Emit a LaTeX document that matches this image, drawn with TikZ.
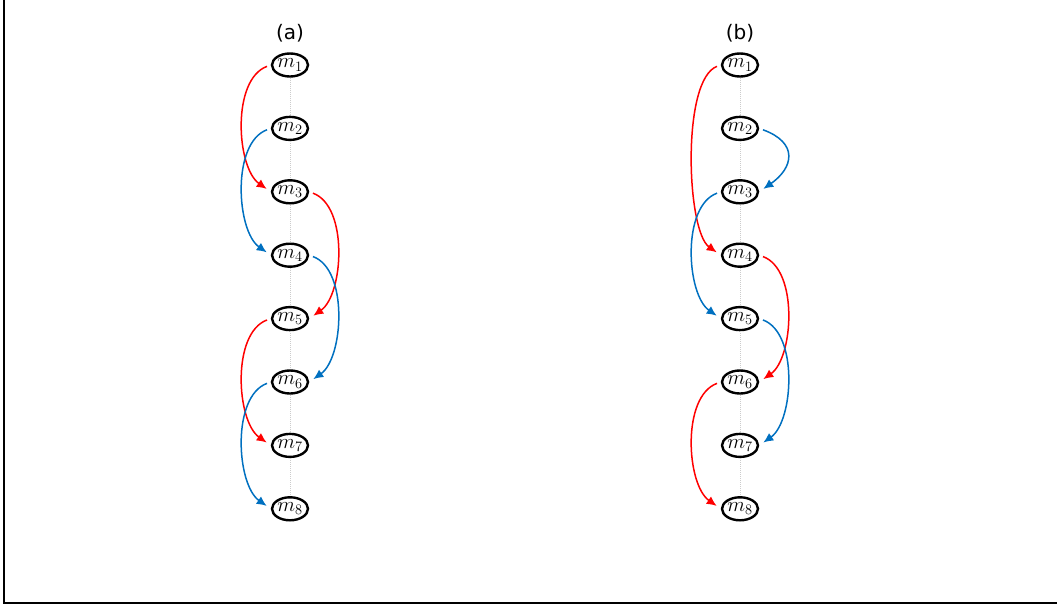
\documentclass[tikz,border=0pt]{standalone}
\usepackage{fontspec}
\newfontfamily\panelfont{DejaVu Sans}
\usetikzlibrary{shapes,arrows.meta,positioning}
\definecolor{arrblue}{RGB}{0,112,192}
\tikzstyle{msg} = [draw, ellipse, line width=2.4pt, minimum width=36pt, minimum height=23pt, inner sep=0pt, font=\fontsize{21}{21}\selectfont]
\tikzstyle{link} = [draw, gray!40, densely dotted, line width=1pt]
\tikzstyle{panel} = [font=\panelfont\fontsize{20}{20}\selectfont]
\tikzstyle{jumpr} = [draw, ->, line width=1.5pt, color=red, shorten <=4pt, shorten >=5pt, distance=42pt]
\tikzstyle{jumpb} = [draw, ->, line width=1.5pt, color=arrblue, shorten <=4pt, shorten >=5pt, distance=42pt]

\begin{document}
\begin{tikzpicture}[x=1pt, y=1pt, node distance=63.4pt, >={Latex[length=10pt,width=9pt]}]
    \useasboundingbox (0,0) rectangle (1057,-605);
    \draw [line width=2pt] (4,0) -- (4,-603) -- (1057,-603);

    % panel (a)
    \node [panel] (pa) at (290,-33) {(a)};
    \node [msg] (a1) at (290,-65) {$m_1$};
    \node [msg, below of = a1] (a2) {$m_2$};
    \node [msg, below of = a2] (a3) {$m_3$};
    \node [msg, below of = a3] (a4) {$m_4$};
    \node [msg, below of = a4] (a5) {$m_5$};
    \node [msg, below of = a5] (a6) {$m_6$};
    \node [msg, below of = a6] (a7) {$m_7$};
    \node [msg, below of = a7] (a8) {$m_8$};

    % panel (b)
    \node [panel] (pb) at (740,-33) {(b)};
    \node [msg] (b1) at (740,-65) {$m_1$};
    \node [msg, below of = b1] (b2) {$m_2$};
    \node [msg, below of = b2] (b3) {$m_3$};
    \node [msg, below of = b3] (b4) {$m_4$};
    \node [msg, below of = b4] (b5) {$m_5$};
    \node [msg, below of = b5] (b6) {$m_6$};
    \node [msg, below of = b6] (b7) {$m_7$};
    \node [msg, below of = b7] (b8) {$m_8$};

    \draw [link] (a1) -- (a2) -- (a3) -- (a4) -- (a5) -- (a6) -- (a7) -- (a8);
    \draw [link] (b1) -- (b2) -- (b3) -- (b4) -- (b5) -- (b6) -- (b7) -- (b8);

    \draw [jumpr] (a1.west) to[out=200, in=145] (a3.west);
    \draw [jumpb] (a2.west) to[out=200, in=145] (a4.west);
    \draw [jumpr] (a3.east) to[out=-20, in=35] (a5.east);
    \draw [jumpb] (a4.east) to[out=-20, in=35] (a6.east);
    \draw [jumpr] (a5.west) to[out=200, in=145] (a7.west);
    \draw [jumpb] (a6.west) to[out=200, in=145] (a8.west);

    \draw [jumpr] (b1.west) to[out=200, in=145] (b4.west);
    \draw [jumpb] (b2.east) to[out=-20, in=35] (b3.east);
    \draw [jumpb] (b3.west) to[out=200, in=145] (b5.west);
    \draw [jumpr] (b4.east) to[out=-20, in=35] (b6.east);
    \draw [jumpb] (b5.east) to[out=-20, in=35] (b7.east);
    \draw [jumpr] (b6.west) to[out=200, in=145] (b8.west);
\end{tikzpicture}
\end{document}
